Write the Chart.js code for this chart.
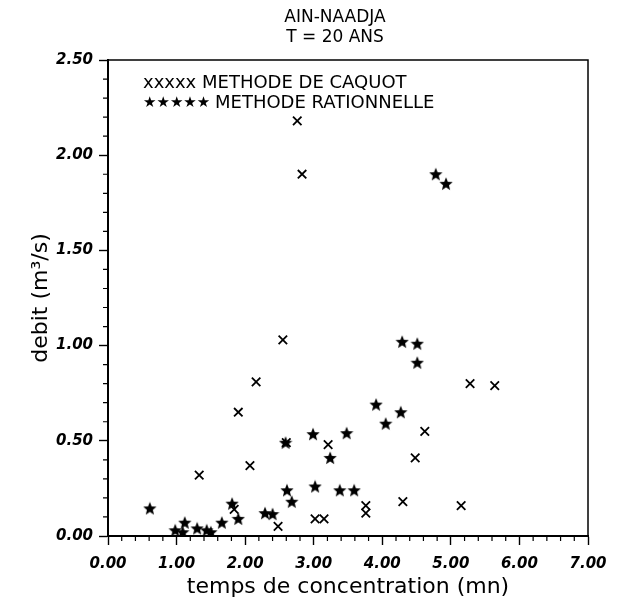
<!DOCTYPE html>
<html>
<head>
<meta charset="utf-8">
<script src="https://cdn.jsdelivr.net/npm/chart.js@4.4.1/dist/chart.umd.min.js"></script>
<style>
    html, body { margin: 0; padding: 0; background: #fff; }
</style>
</head>
<body>
<canvas id="chart" width="627" height="600"></canvas>
<script>
// Data (temps de concentration in mn, debit in m3/s)
const caquotX = [2.76, 2.83, 2.55, 2.16, 1.90, 5.28, 5.64, 4.62, 1.33, 2.07, 1.84,
                 2.48, 2.60, 3.21, 3.02, 3.15, 3.76, 3.76, 4.30, 4.48, 5.15];
const caquotY = [2.18, 1.90, 1.03, 0.81, 0.65, 0.80, 0.79, 0.55, 0.32, 0.37, 0.14,
                 0.05, 0.49, 0.48, 0.09, 0.09, 0.16, 0.12, 0.18, 0.41, 0.16];

const rationX = [0.61, 0.98, 1.09, 1.12, 1.30, 1.44, 1.50, 1.66, 1.81, 1.90,
                 2.29, 2.40, 2.59, 2.61, 2.68, 2.99, 3.02, 3.24, 3.38, 3.48,
                 3.59, 3.91, 4.05, 4.27, 4.29, 4.51, 4.51, 4.78, 4.93];
const rationY = [0.145, 0.03, 0.02, 0.07, 0.04, 0.03, 0.02, 0.07, 0.17, 0.09,
                 0.12, 0.115, 0.49, 0.24, 0.18, 0.535, 0.26, 0.41, 0.24, 0.54,
                 0.24, 0.69, 0.59, 0.65, 1.02, 1.01, 0.91, 1.90, 1.85];

const titleLines = ['AIN-NAADJA', 'T = 20 ANS'];
const legendLines = ['xxxxx METHODE DE CAQUOT', 'METHODE RATIONNELLE'];
const xLabel = 'temps de concentration (mn)';
const yLabel = 'debit (m\u00b3/s)';

// filled five point star used as point style
function makeStar(size) {
    const c = document.createElement('canvas');
    c.width = size;
    c.height = size;
    const g = c.getContext('2d');
    g.beginPath();
    for (let i = 0; i < 10; i++) {
        const r = i % 2 ? size * 0.22 : size * 0.5;
        const a = -Math.PI / 2 + i * Math.PI / 5;
        const px = size / 2 + r * Math.cos(a);
        const py = size / 2 + 0.5 + r * Math.sin(a);
        if (i === 0) g.moveTo(px, py); else g.lineTo(px, py);
    }
    g.closePath();
    g.fillStyle = '#000';
    g.fill();
    return c;
}
const starImg = makeStar(14);

const toPoints = (xs, ys) => xs.map((x, i) => ({ x: x, y: ys[i] }));

// frame, minor ticks, title and legend
const decorations = {
    id: 'decorations',
    afterDraw(chart) {
        const { ctx, chartArea: a, scales } = chart;
        ctx.save();
        ctx.strokeStyle = '#000';
        ctx.lineWidth = 1.5;
        ctx.strokeRect(a.left, a.top, a.right - a.left, a.bottom - a.top);

        ctx.lineWidth = 1.2;
        ctx.beginPath();
        for (let i = 1; i < 35; i++) {
            if (i % 5 === 0) continue;
            const px = scales.x.getPixelForValue(i * 0.2);
            ctx.moveTo(px, a.bottom);
            ctx.lineTo(px, a.bottom + 5);
        }
        for (let i = 1; i < 25; i++) {
            if (i % 5 === 0) continue;
            const py = scales.y.getPixelForValue(i * 0.1);
            ctx.moveTo(a.left, py);
            ctx.lineTo(a.left - 5, py);
        }
        ctx.stroke();

        ctx.fillStyle = '#000';
        ctx.textAlign = 'center';
        ctx.textBaseline = 'middle';
        ctx.font = '17px "DejaVu Sans"';
        ctx.fillText(titleLines[0], 335, 18);
        ctx.fillText(titleLines[1], 335, 38);

        ctx.textAlign = 'left';
        ctx.font = '18px "DejaVu Sans"';
        ctx.fillText(legendLines[0], a.left + 35, a.top + 23);
        ctx.font = '15px "DejaVu Sans"';
        ctx.fillText('\u2605\u2605\u2605\u2605\u2605', a.left + 35, a.top + 43);
        const w = ctx.measureText('\u2605\u2605\u2605\u2605\u2605 ').width;
        ctx.font = '18px "DejaVu Sans"';
        ctx.fillText(legendLines[1], a.left + 35 + w, a.top + 43);
        ctx.restore();
    }
};

const tickFont = { family: '"DejaVu Sans"', size: 15, style: 'italic', weight: 'bold' };

new Chart(document.getElementById('chart'), {
    type: 'scatter',
    data: {
        datasets: [
            {
                label: 'METHODE DE CAQUOT',
                data: toPoints(caquotX, caquotY),
                pointStyle: 'crossRot',
                radius: 6,
                borderColor: '#000',
                borderWidth: 1.8
            },
            {
                label: 'METHODE RATIONNELLE',
                data: toPoints(rationX, rationY),
                pointStyle: starImg,
                radius: 7
            }
        ]
    },
    options: {
        responsive: false,
        animation: false,
        layout: { padding: { top: 60, right: 39, bottom: 0, left: 0 } },
        plugins: {
            legend: { display: false },
            tooltip: { enabled: false }
        },
        scales: {
            x: {
                type: 'linear',
                min: 0,
                max: 7,
                afterFit: scale => { scale.height = 64; },
                border: { color: '#000', width: 2 },
                grid: { drawOnChartArea: false, color: '#000', tickLength: 9, tickWidth: 1.4 },
                ticks: {
                    stepSize: 1,
                    padding: 10,
                    color: '#000',
                    font: tickFont,
                    callback: v => v.toFixed(2)
                },
                title: {
                    display: true,
                    text: xLabel,
                    color: '#000',
                    font: { family: '"DejaVu Sans"', size: 22 },
                    padding: { top: 0, bottom: 0 }
                }
            },
            y: {
                type: 'linear',
                min: 0,
                max: 2.5,
                afterFit: scale => { scale.width = 108; },
                border: { color: '#000', width: 2 },
                grid: { drawOnChartArea: false, color: '#000', tickLength: 9, tickWidth: 1.4 },
                ticks: {
                    stepSize: 0.5,
                    padding: 6,
                    color: '#000',
                    font: tickFont,
                    callback: v => v.toFixed(2)
                },
                title: {
                    display: true,
                    text: yLabel,
                    color: '#000',
                    font: { family: '"DejaVu Sans"', size: 22 },
                    padding: { top: 28, bottom: 0 }
                }
            }
        }
    },
    plugins: [decorations]
});
</script>
</body>
</html>
